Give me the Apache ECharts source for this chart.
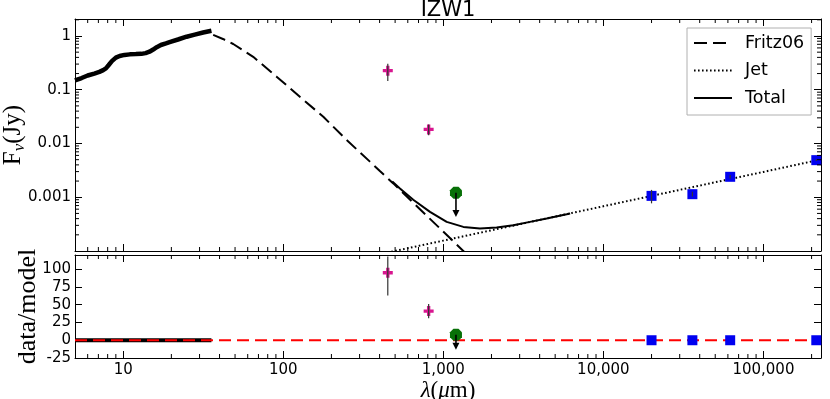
<!DOCTYPE html>
<html>
<head>
<meta charset="utf-8">
<title>IZW1</title>
<script src="https://cdn.jsdelivr.net/npm/echarts@6/dist/echarts.min.js"></script>
<style>
  html, body { margin: 0; padding: 0; background: #fff; }
  #chart { width: 830px; height: 399px; }
</style>
</head>
<body>
<div id="chart"></div>
<script>
  // axis ranges
  const lambdaRange = [5, 229000];
  const fluxRange = [1e-4, 2.07];
  const ratioRange = [-25, 120];

  // [wavelength (um), flux (Jy)]
  const spectrum = [
    [5, 0.149], [5.5, 0.165], [6, 0.184], [6.6, 0.2], [7.1, 0.215], [7.5, 0.232],
    [7.8, 0.25], [8.1, 0.285], [8.5, 0.34], [9.0, 0.395], [9.5, 0.425], [10.2, 0.445],
    [11, 0.455], [12, 0.46], [13, 0.465], [13.8, 0.48], [14.6, 0.51], [15.4, 0.56],
    [16.2, 0.62], [17.2, 0.68], [18.5, 0.73], [19.5, 0.77], [22, 0.86], [24.9, 0.97],
    [28, 1.06], [31.6, 1.16], [35.6, 1.25]
  ];
  const fritz06 = [
    [36.5, 1.05], [42, 0.88], [48.7, 0.71], [64.9, 0.41], [90.9, 0.175], [127, 0.074],
    [178, 0.0314], [249, 0.0116], [348, 0.0046], [400, 0.0031], [487, 0.00181],
    [649, 0.00079], [953, 0.000263], [1334, 0.0001], [1600, 0.000059]
  ];
  const jet = [
    [400, 0.000087], [1000, 0.000156], [10000, 0.00068], [100000, 0.00296], [229000, 0.00505]
  ];
  const total = [
    [480, 0.00196], [536, 0.00146], [649, 0.0009], [826, 0.000535], [1050, 0.000348],
    [1334, 0.000281], [1694, 0.000262], [2154, 0.000274], [2738, 0.000302],
    [3480, 0.000348], [4425, 0.000403], [5900, 0.000484], [6200, 0.0005]
  ];
  const magentaPts = [[450, 0.226], [810, 0.0183]];
  const greenPts = [[1200, 0.00121]];
  const bluePts = [[20000, 0.00106], [36000, 0.00114], [62000, 0.0024], [214000, 0.0049]];
  // [wavelength, low, high]
  const fluxErrors = [
    [450, 0.146, 0.306], [810, 0.0143, 0.0225], [20000, 0.00077, 0.00137],
    [36000, 0.00103, 0.00126], [62000, 0.00224, 0.00258], [214000, 0.0047, 0.0051]
  ];
  // upper limit: [wavelength, from, to]
  const fluxLimits = [[1200, 0.00121, 0.00043]];

  // data/model panel
  const spectrumRatio = [[5, 0], [35.6, 0]];
  const unityLine = [[5, 0], [229000, 0]];
  const magentaRatio = [[450, 95], [810, 41]];
  const greenRatio = [[1200, 7.7]];
  const blueRatio = [[20000, 0], [36000, 0], [62000, 0], [214000, 0]];
  const ratioErrors = [[450, 63, 118], [810, 31, 51]];
  const ratioLimits = [[1200, 7.7, -13.5]];

  const minorMults = [2, 3, 4, 5, 6, 7, 8, 9];

  function minorValues(range) {
    const out = [];
    for (let e = Math.floor(Math.log10(range[0])); e <= Math.ceil(Math.log10(range[1])); e++) {
      minorMults.forEach(m => {
        const v = m * Math.pow(10, e);
        if (v > range[0] && v < range[1]) out.push(v);
      });
    }
    return out;
  }

  const font = 'DejaVu Sans';
  const serif = 'Liberation Serif';
  const plus = 'path://M1,0H2V1H3V2H2V3H1V2H0V1H1Z';
  const octagon = 'path://M0.29,0H0.71L1,0.29V0.71L0.71,1H0.29L0,0.71V0.29Z';

  function isPow10(v) {
    const e = Math.log10(v);
    return Math.abs(e - Math.round(e)) < 1e-6;
  }

  const tickLine = {color: '#000', width: 1};

  function xAxisOf(grid, pos, labels) {
    return {
      type: 'log', logBase: 10, gridIndex: grid, position: pos,
      min: lambdaRange[0], max: lambdaRange[1],
      axisLine: {onZero: false, lineStyle: tickLine},
      axisTick: {inside: true, length: 7, lineStyle: tickLine},
      splitLine: {show: false},
      axisLabel: labels ? {
        show: true, margin: 5, color: '#000', fontFamily: font, fontSize: 15,
        showMinLabel: false, showMaxLabel: false,
        formatter: v => isPow10(v) ? Math.round(v).toLocaleString('en-US') : ''
      } : {show: false}
    };
  }

  function yAxisOf(grid, pos, base, labels) {
    return Object.assign({
      gridIndex: grid, position: pos,
      axisLine: {onZero: false, lineStyle: tickLine},
      axisTick: {inside: true, length: 7, lineStyle: tickLine},
      splitLine: {show: false},
      axisLabel: labels ? Object.assign({
        show: true, margin: 4, color: '#000', fontFamily: font, fontSize: 15
      }, labels) : {show: false}
    }, base);
  }

  const fluxBase = {type: 'log', logBase: 10, min: fluxRange[0], max: fluxRange[1]};
  const ratioBase = {type: 'value', min: ratioRange[0], max: ratioRange[1], interval: 25};

  function errorBar(params, api) {
    const a = api.coord([api.value(0), api.value(1)]);
    const b = api.coord([api.value(0), api.value(2)]);
    return {
      type: 'line', shape: {x1: a[0], y1: a[1], x2: b[0], y2: b[1]},
      style: {stroke: '#333', lineWidth: 1.2}
    };
  }

  function limitArrow(params, api) {
    const a = api.coord([api.value(0), api.value(1)]);
    const b = api.coord([api.value(0), api.value(2)]);
    return {
      type: 'group', children: [
        {type: 'line', shape: {x1: a[0], y1: a[1], x2: b[0], y2: b[1] - 4}, style: {stroke: '#000', lineWidth: 1.6}},
        {type: 'polygon', shape: {points: [[b[0] - 3.5, b[1] - 7], [b[0] + 3.5, b[1] - 7], [b[0], b[1]]]}, style: {fill: '#000'}}
      ]
    };
  }

  // matplotlib-like minor ticks on every side
  function minorTick(params, api) {
    const cs = params.coordSys;
    const st = {stroke: '#000', lineWidth: 1};
    const p = api.coord([api.value(0), api.value(1)]);
    if (api.value(2) === 0) {
      return {type: 'group', children: [
        {type: 'line', shape: {x1: p[0], y1: cs.y + cs.height, x2: p[0], y2: cs.y + cs.height - 4}, style: st},
        {type: 'line', shape: {x1: p[0], y1: cs.y, x2: p[0], y2: cs.y + 4}, style: st}
      ]};
    }
    return {type: 'group', children: [
      {type: 'line', shape: {x1: cs.x, y1: p[1], x2: cs.x + 4, y2: p[1]}, style: st},
      {type: 'line', shape: {x1: cs.x + cs.width, y1: p[1], x2: cs.x + cs.width - 4, y2: p[1]}, style: st}
    ]};
  }

  const topMinor = minorValues(lambdaRange).map(v => [v, 1, 0])
    .concat(minorValues(fluxRange).map(v => [10, v, 1]));
  const bottomMinor = minorValues(lambdaRange).map(v => [v, 0, 0]);

  const lineSeries = (name, data, lineStyle, z) => ({
    name, type: 'line', xAxisIndex: 0, yAxisIndex: 0, data,
    symbol: 'none', color: '#000', lineStyle: Object.assign({color: '#000', width: 2}, lineStyle), z
  });

  const chart = echarts.init(document.getElementById('chart'));

  chart.setOption({
    animation: false,
    backgroundColor: '#fff',
    title: {
      text: 'IZW1', left: 448, top: 0, padding: 0, textAlign: 'center',
      textStyle: {fontFamily: font, fontSize: 21, fontWeight: 'normal', color: '#000'}
    },
    legend: {
      data: ['Fritz06', 'Jet', 'Total'],
      orient: 'vertical', left: 687, top: 28, padding: [6, 7, 8, 6],
      itemWidth: 38, itemHeight: 14, itemGap: 9.5,
      itemStyle: {opacity: 0, borderWidth: 0},
      borderColor: '#b0b0b0', borderWidth: 1, backgroundColor: '#fff',
      textStyle: {fontFamily: font, fontSize: 17.5, color: '#000', lineHeight: 18, padding: [0, 0, 0, 8]}
    },
    grid: [
      {left: 75, top: 19, width: 746, height: 232, outerBoundsMode: 'none'},
      {left: 75, top: 255, width: 746, height: 103, outerBoundsMode: 'none'}
    ],
    xAxis: [
      xAxisOf(0, 'bottom', false),
      xAxisOf(0, 'top', false),
      Object.assign(xAxisOf(1, 'bottom', true), {
        name: '{i|λ}({i|μ}m)', nameLocation: 'middle', nameGap: 21, nameMoveOverlap: false,
        nameTextStyle: {
          fontFamily: serif, fontSize: 23, color: '#000',
          rich: {i: {fontFamily: serif, fontSize: 23, fontStyle: 'italic', color: '#000'}}
        }
      }),
      xAxisOf(1, 'top', false)
    ],
    yAxis: [
      yAxisOf(0, 'left', Object.assign({
        name: '{n|F}{s|ν}{n|(Jy)}', nameLocation: 'middle', nameRotate: 90, nameGap: 47,
        nameMoveOverlap: false,
        nameTextStyle: {
          color: '#000',
          rich: {
            n: {fontFamily: serif, fontSize: 25, lineHeight: 30, color: '#000'},
            s: {fontFamily: serif, fontSize: 17, fontStyle: 'italic', lineHeight: 30, verticalAlign: 'bottom', color: '#000'}
          }
        }
      }, fluxBase), {
        showMinLabel: false, showMaxLabel: false,
        formatter: v => {
          if (!isPow10(v)) return '';
          const r = Math.round(Math.log10(v));
          if (r < -3) return '';
          return r >= 0 ? String(Math.pow(10, r)) : Math.pow(10, r).toFixed(-r);
        }
      }),
      yAxisOf(0, 'right', fluxBase, false),
      yAxisOf(1, 'left', Object.assign({
        name: 'data/model', nameLocation: 'middle', nameRotate: 90, nameGap: 34,
        nameMoveOverlap: false,
        nameTextStyle: {fontFamily: serif, fontSize: 26, color: '#000'}
      }, ratioBase), {
        formatter: v => (v % 25 === 0 ? String(v) : '')
      }),
      yAxisOf(1, 'right', ratioBase, false)
    ],
    series: [
      lineSeries('spectrum', spectrum, {width: 4.5}, 3),
      lineSeries('Fritz06', fritz06, {type: [13, 6]}, 2),
      lineSeries('Jet', jet, {type: [1.6, 2.4]}, 2),
      lineSeries('Total', total, {}, 2),
      {
        type: 'scatter', xAxisIndex: 0, yAxisIndex: 0, data: magentaPts,
        symbol: plus, symbolSize: 10, itemStyle: {color: '#d8168f', opacity: 1}, z: 4
      },
      {
        type: 'scatter', xAxisIndex: 0, yAxisIndex: 0, data: greenPts,
        symbol: octagon, symbolSize: 12, itemStyle: {color: '#077007', opacity: 1}, z: 4
      },
      {
        type: 'scatter', xAxisIndex: 0, yAxisIndex: 0, data: bluePts,
        symbol: 'rect', symbolSize: 10, itemStyle: {color: '#0000f0', opacity: 1}, z: 4
      },
      {
        type: 'custom', xAxisIndex: 0, yAxisIndex: 0, data: fluxErrors,
        renderItem: errorBar, encode: {x: 0, y: [1, 2]}, z: 5
      },
      {
        type: 'custom', xAxisIndex: 0, yAxisIndex: 0, data: fluxLimits,
        renderItem: limitArrow, encode: {x: 0, y: [1, 2]}, z: 5
      },
      {
        type: 'custom', xAxisIndex: 0, yAxisIndex: 0, data: topMinor,
        renderItem: minorTick, encode: {x: 0, y: 1}, silent: true, z: 6
      },

      // data/model panel
      {
        type: 'line', xAxisIndex: 2, yAxisIndex: 2, data: spectrumRatio,
        symbol: 'none', lineStyle: {color: '#000', width: 4}, z: 2
      },
      {
        type: 'line', xAxisIndex: 2, yAxisIndex: 2, data: unityLine,
        symbol: 'none', lineStyle: {color: '#ff0000', width: 2, type: [12, 6]}, z: 3
      },
      {
        type: 'scatter', xAxisIndex: 2, yAxisIndex: 2, data: magentaRatio,
        symbol: plus, symbolSize: 10, itemStyle: {color: '#d8168f', opacity: 1}, z: 4
      },
      {
        type: 'scatter', xAxisIndex: 2, yAxisIndex: 2, data: greenRatio,
        symbol: octagon, symbolSize: 12, itemStyle: {color: '#077007', opacity: 1}, z: 4
      },
      {
        type: 'scatter', xAxisIndex: 2, yAxisIndex: 2, data: blueRatio,
        symbol: 'rect', symbolSize: 10, itemStyle: {color: '#0000f0', opacity: 1}, z: 4
      },
      {
        type: 'custom', xAxisIndex: 2, yAxisIndex: 2, data: ratioErrors,
        renderItem: errorBar, encode: {x: 0, y: [1, 2]}, z: 5
      },
      {
        type: 'custom', xAxisIndex: 2, yAxisIndex: 2, data: ratioLimits,
        renderItem: limitArrow, encode: {x: 0, y: [1, 2]}, z: 5
      },
      {
        type: 'custom', xAxisIndex: 2, yAxisIndex: 2, data: bottomMinor,
        renderItem: minorTick, encode: {x: 0, y: 1}, silent: true, z: 6
      }
    ]
  });
</script>
</body>
</html>
